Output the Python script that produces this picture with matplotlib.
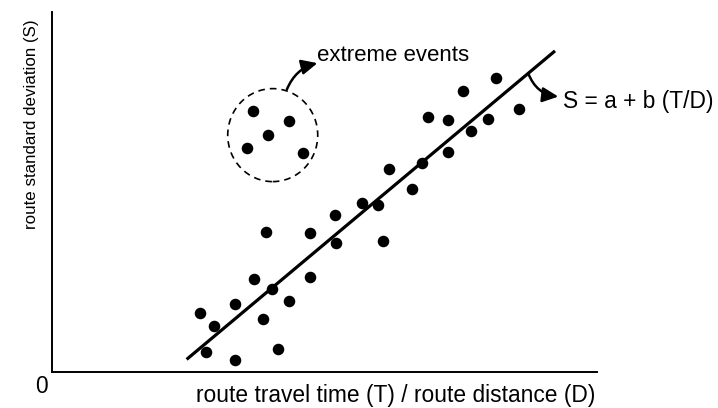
import matplotlib
matplotlib.use("Agg")
import matplotlib.pyplot as plt
from matplotlib import font_manager
from matplotlib.patches import Ellipse

# data (axis units 0..100 on both axes)
main_x = [27.1, 29.8, 28.3, 33.6, 33.6, 37.1, 38.7, 40.4, 39.3, 41.5,
          43.5, 47.4, 47.3, 51.9, 52.2, 56.8, 59.8, 60.7, 61.9, 66.1,
          67.9, 72.7, 68.9, 72.7, 76.8, 80.0, 75.4, 81.4, 85.6]
main_y = [16.3, 12.8, 5.5, 3.3, 19.0, 25.8, 14.6, 23.0, 38.9, 6.4,
          19.7, 38.6, 26.3, 43.6, 35.8, 46.9, 46.5, 36.4, 56.3, 50.8,
          58.0, 61.2, 70.8, 69.9, 67.0, 70.2, 78.1, 81.8, 73.0]
extreme_x = [36.9, 43.5, 39.7, 35.7, 46.1]
extreme_y = [72.6, 69.6, 65.8, 62.2, 60.8]
fit_x = [24.7, 92.3]
fit_y = [3.5, 89.2]

names = {f.name for f in font_manager.fontManager.ttflist}
if "Liberation Sans Narrow" in names:
    family = "Liberation Sans Narrow"
    k = 1.0
else:
    family = "Liberation Sans"
    k = 0.82
plt.rcParams["font.family"] = family

fig = plt.figure(figsize=(7.18, 4.08), dpi=100)
ax = fig.add_axes([52 / 718, 36 / 408, 545 / 718, 360 / 408])
ax.set_xlim(0, 100)
ax.set_ylim(0, 100)
for s in ["top", "right"]:
    ax.spines[s].set_visible(False)
for s in ["left", "bottom"]:
    ax.spines[s].set_linewidth(1.4)
ax.set_xticks([])
ax.set_yticks([])

# regression line and points
ax.plot(fit_x, fit_y, color="black", lw=2.3, solid_capstyle="butt", zorder=2)
ax.plot(main_x, main_y, "o", color="black", ms=7.3, zorder=3)
ax.plot(extreme_x, extreme_y, "o", color="black", ms=7.3, zorder=3)

# dashed circle round the extreme events
circ = Ellipse((40.5, 65.8), 90 / 5.45, 93 / 3.6, fill=False, ec="black",
               lw=1.2, ls=(0, (4, 3)))
ax.add_patch(circ)

arrow = dict(arrowstyle="-|>,head_length=0.95,head_width=0.45", color="black",
             lw=1.8, shrinkA=0, shrinkB=0)
ax.annotate("", xy=(48.7, 85.8), xytext=(43.1, 78.5),
            arrowprops=dict(arrow, connectionstyle="arc3,rad=-0.25"))
ax.annotate("", xy=(92.9, 76.5), xytext=(87.4, 82.9),
            arrowprops=dict(arrow, connectionstyle="arc3,rad=0.3"))

ax.text(48.6, 86.4, "extreme events", fontsize=19.5 * k, va="baseline", ha="left")
ax.text(93.8, 73.4, "S = a + b (T/D)", fontsize=20 * k, va="baseline", ha="left")

ax.text(0.63, -0.0825, "route travel time (T) / route distance (D)",
        transform=ax.transAxes, fontsize=20 * k, ha="center", va="baseline")
ax.text(-0.0376, 0.689, "route standard deviation (S)", transform=ax.transAxes,
        fontsize=14.8 * k, rotation=90, ha="center", va="center")
ax.text(-0.019, -0.039, "0", transform=ax.transAxes, fontsize=20 * k,
        ha="center", va="center")

fig.savefig("out.png", dpi=100)
